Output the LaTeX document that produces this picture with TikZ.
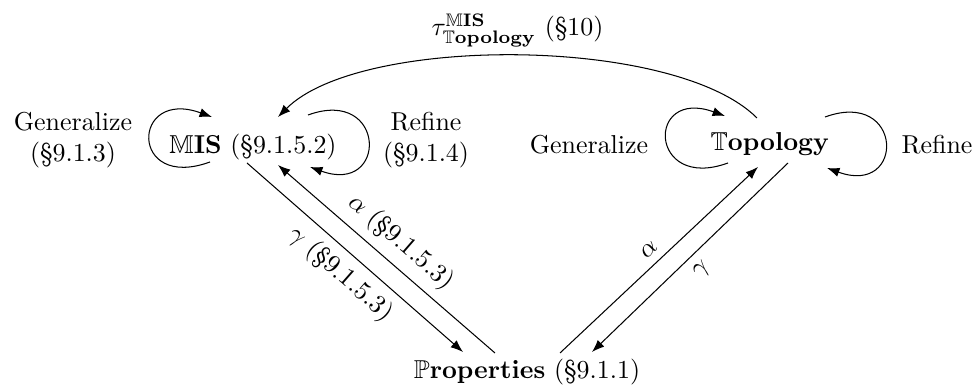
\documentclass[tikz,border=0pt]{standalone}
\usepackage{amsmath,amssymb}
\usepackage{tikz}
\usetikzlibrary{arrows.meta,calc}

\begin{document}
\begin{tikzpicture}[x=0.386pt, y=0.386pt,
  obj/.style  = {inner sep=3pt},
  lbl/.style  = {align=center},
  arr/.style  = {-Latex},
  lp/.style   = {arr, out=#1, in=-#1}
]
\useasboundingbox (0,0) rectangle (976,-387);

% , - Objects , -
\node[obj] (mis)   at (253,-147) {$\mathbb{M}\mathbf{IS}$ (\S9.1.5.2)};
\node[obj] (topo)  at (770,-144) {$\mathbb{T}\mathbf{opology}$};
\node[obj] (props) at (527,-372) {$\mathbb{P}\mathbf{roperties}$ (\S9.1.1)};

% , - Loop labels , -
\node[lbl] (genmis)  at (73,-140)  {Generalize\\(\S9.1.3)};
\node[lbl] (refmis)  at (426,-140) {Refine\\(\S9.1.4)};
\node[lbl] (gentopo) at (589,-145) {Generalize};
\node[lbl] (reftopo) at (937,-145) {Refine};

% , - Loops , -
\draw[lp=200, looseness=4.9] ($(mis)+(-43,-15)$)  to ($(mis)+(-41,30)$);
\draw[lp=20,  looseness=4.1] ($(mis)+(55,32)$)    to ($(mis)+(57,-20)$);
\draw[lp=200, looseness=4.6] ($(topo)+(-42,-19)$) to ($(topo)+(-45,28)$);
\draw[lp=20,  looseness=4.2] ($(topo)+(55,27)$)   to ($(topo)+(57,-24)$);

% , - Abstraction / concretization , -
\draw[arr] ($(mis)+(-6,-16)$) -- node[midway,sloped,below]{$\gamma$ (\S9.1.5.3)} ($(props)+(-64,20)$);
\draw[arr] ($(props)+(-32,19)$) -- node[midway,sloped,above]{$\alpha$ (\S9.1.5.3)} ($(mis)+(25,-18)$);
\draw[arr] ($(props)+(33,19)$) -- node[midway,sloped,above]{$\alpha$} ($(topo)+(-12,-23)$);
\draw[arr] ($(topo)+(18,-19)$) -- node[midway,sloped,below]{$\gamma$} ($(props)+(65,20)$);

% , - Translation , -
\draw[arr] ($(topo)+(-13,26)$) to[out=135,in=45,looseness=0.62]
  node[midway,above]{$\tau^{\mathbb{M}\mathbf{IS}}_{\mathbb{T}\mathbf{opology}}$ (\S10)}
  ($(mis)+(25,30)$);

\end{tikzpicture}
\end{document}
